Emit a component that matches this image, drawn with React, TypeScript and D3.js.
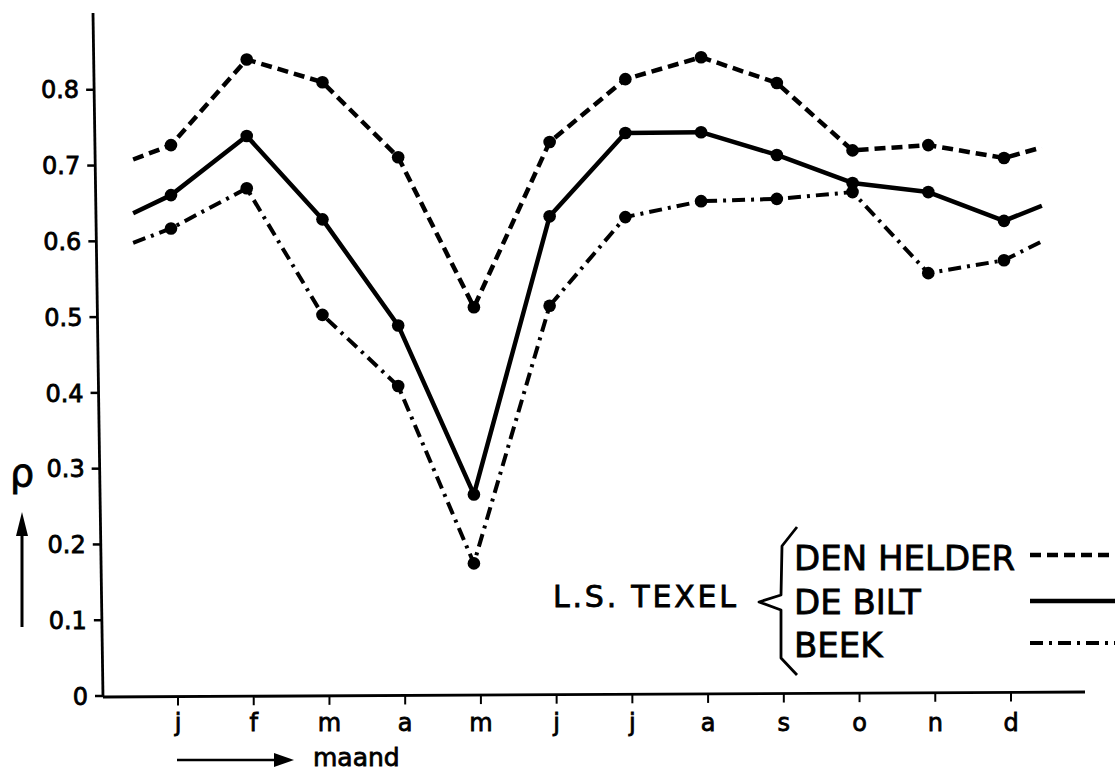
import React from "react";
import * as d3 from "d3";

const months = ["j", "f", "m", "a", "m", "j", "j", "a", "s", "o", "n", "d"];
const yTicks = [0, 0.1, 0.2, 0.3, 0.4, 0.5, 0.6, 0.7, 0.8];

const denHelder = [0.727, 0.84, 0.81, 0.711, 0.513, 0.731, 0.814, 0.843, 0.809, 0.72, 0.727, 0.71];
const deBilt = [0.661, 0.739, 0.629, 0.489, 0.266, 0.633, 0.743, 0.744, 0.714, 0.677, 0.665, 0.627];
const beek = [0.617, 0.67, 0.503, 0.409, 0.175, 0.515, 0.632, 0.653, 0.656, 0.665, 0.558, 0.575];
// values where the curves run out before january and after december
const denHelderEdges = [0.708, 0.724];
const deBiltEdges = [0.637, 0.647];
const beekEdges = [0.598, 0.6];

const seriesNames = ["DEN HELDER", "DE BILT", "BEEK"];

const W = 1118;
const H = 771;
const FONT = "'DejaVu Sans', sans-serif";

const x = d3.scaleLinear().domain([0, 11]).range([171, 1004]);
const y = d3.scaleLinear().domain([0, 0.9]).range([696, 14]);
const tickShift = 7;

// slightly slanted y axis
const axisTop = { x: 93, y: 13 };
const axisBottom = { x: 103, y: 697 };
const axisXAt = (py: number) => axisTop.x + ((py - axisTop.y) * (axisBottom.x - axisTop.x)) / (axisBottom.y - axisTop.y);
const xAxisStart = { x: 103, y: 697 };
const xAxisEnd = { x: 1085, y: 692 };
const xAxisYAt = (px: number) => xAxisStart.y + ((px - xAxisStart.x) * (xAxisEnd.y - xAxisStart.y)) / (xAxisEnd.x - xAxisStart.x);

const styles = [
  { dash: "11 6", width: 4.5 },
  { dash: "none", width: 4.5 },
  { dash: "13 6 3 6", width: 4 },
];

const textWeight = { stroke: "#000", strokeWidth: 0.8 };

function buildPoints(vals: number[], edges: number[]): [number, number][] {
  const pts: [number, number][] = [[-0.5, edges[0]]];
  vals.forEach((v, i) => pts.push([i, v]));
  pts.push([11.5, edges[1]]);
  return pts;
}

export default function App() {
  const line = d3
    .line<[number, number]>()
    .x((d) => x(d[0]))
    .y((d) => y(d[1]));
  const all = [
    { vals: denHelder, edges: denHelderEdges },
    { vals: deBilt, edges: deBiltEdges },
    { vals: beek, edges: beekEdges },
  ];
  const legendY = [555, 601, 643];
  const legendBase = [570, 614, 657];

  return (
    <svg
      width={W}
      height={H}
      style={{ position: "absolute", left: 0, top: 0, background: "#fff" }}
      fontFamily={FONT}
    >
      <rect width={W} height={H} fill="#fff" />
      {/* y axis */}
      <line x1={axisTop.x} y1={axisTop.y} x2={axisBottom.x} y2={axisBottom.y} stroke="#000" strokeWidth={2.8} />
      {yTicks.map((t) => {
        const py = y(t);
        const ax = axisXAt(py);
        return (
          <g key={t}>
            <line x1={ax - 8} x2={ax} y1={py} y2={py} stroke="#000" strokeWidth={2.5} />
            <text x={ax - 15} y={py} dy="0.36em" textAnchor="end" fontSize={24} fill="#000" {...textWeight}>
              {t === 0 ? "0" : t.toFixed(1)}
            </text>
          </g>
        );
      })}
      {/* x axis */}
      <line x1={xAxisStart.x} y1={xAxisStart.y} x2={xAxisEnd.x} y2={xAxisEnd.y} stroke="#000" strokeWidth={2.8} />
      {months.map((m, i) => {
        const px = x(i) + tickShift;
        const py = xAxisYAt(px);
        return (
          <g key={i}>
            <line x1={px} x2={px} y1={py} y2={py + 9} stroke="#000" strokeWidth={2} />
            <text x={px} y={731} textAnchor="middle" fontSize={24} fill="#000" {...textWeight}>
              {m}
            </text>
          </g>
        );
      })}
      {/* series */}
      {all.map((s, k) => (
        <g key={k}>
          <path
            d={line(buildPoints(s.vals, s.edges)) || ""}
            fill="none"
            stroke="#000"
            strokeWidth={styles[k].width}
            strokeDasharray={styles[k].dash}
            strokeLinejoin="round"
          />
          {s.vals.map((v, i) => (
            <circle key={i} cx={x(i)} cy={y(v)} r={6.3} fill="#000" />
          ))}
        </g>
      ))}
      {/* axis titles */}
      <text x={10} y={486} fontSize={38} fill="#000" {...textWeight}>
        ρ
      </text>
      <line x1={22} x2={22} y1={532} y2={627} stroke="#000" strokeWidth={3} />
      <path d="M22,512 L16,536 L28,536 Z" fill="#000" />
      <line x1={177} x2={278} y1={760} y2={760} stroke="#000" strokeWidth={2.5} />
      <path d="M294,760 L274,753 L274,767 Z" fill="#000" />
      <text x={313} y={766} fontSize={25} fill="#000" {...textWeight}>
        maand
      </text>
      {/* legend */}
      <text x={553} y={607} fontSize={30} letterSpacing={2.8} fill="#000" {...textWeight}>
        L.S. TEXEL
      </text>
      <path
        d="M797,527 L782,546 L781,595 L759,602 L781,610 L781,658 L797,675"
        fill="none"
        stroke="#000"
        strokeWidth={2.8}
        strokeLinejoin="round"
      />
      {seriesNames.map((n, k) => (
        <g key={n}>
          <text x={794} y={legendBase[k]} fontSize={34} fill="#000" {...textWeight}>
            {n}
          </text>
          <line
            x1={1030}
            x2={1115}
            y1={legendY[k]}
            y2={legendY[k]}
            stroke="#000"
            strokeWidth={styles[k].width}
            strokeDasharray={styles[k].dash}
          />
        </g>
      ))}
    </svg>
  );
}
